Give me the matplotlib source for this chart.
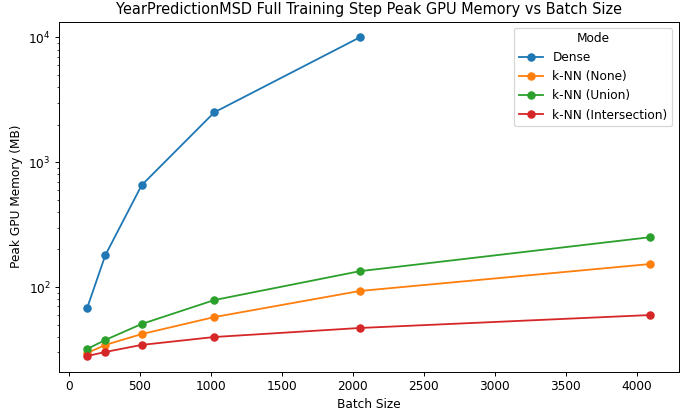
import matplotlib.pyplot as plt

batch_sizes = [128, 256, 512, 1024, 2048, 4096]
dense_mem = [68, 180, 655, 2512, 10000]
knn_none_mem = [29.6, 34.4, 42.0, 57.5, 93.0, 153.0]
knn_union_mem = [31.9, 37.7, 50.6, 78.7, 134.0, 251.0]
knn_inter_mem = [28.0, 30.2, 34.4, 39.8, 47.0, 59.7]

fig = plt.figure(figsize=(692 / 87, 412 / 87), dpi=87)
plt.plot(batch_sizes[:len(dense_mem)], dense_mem, marker='o', label="Dense")
plt.plot(batch_sizes, knn_none_mem, marker='o', label="k-NN (None)")
plt.plot(batch_sizes, knn_union_mem, marker='o', label="k-NN (Union)")
plt.plot(batch_sizes, knn_inter_mem, marker='o', label="k-NN (Intersection)")
plt.yscale("log")
plt.title("YearPredictionMSD Full Training Step Peak GPU Memory vs Batch Size")
plt.xlabel("Batch Size")
plt.ylabel("Peak GPU Memory (MB)")
plt.legend(title="Mode")
fig.subplots_adjust(left=59 / 692, right=678.5 / 692, top=1 - 21.5 / 412, bottom=1 - 372 / 412)
plt.savefig("out.png", dpi=87)
